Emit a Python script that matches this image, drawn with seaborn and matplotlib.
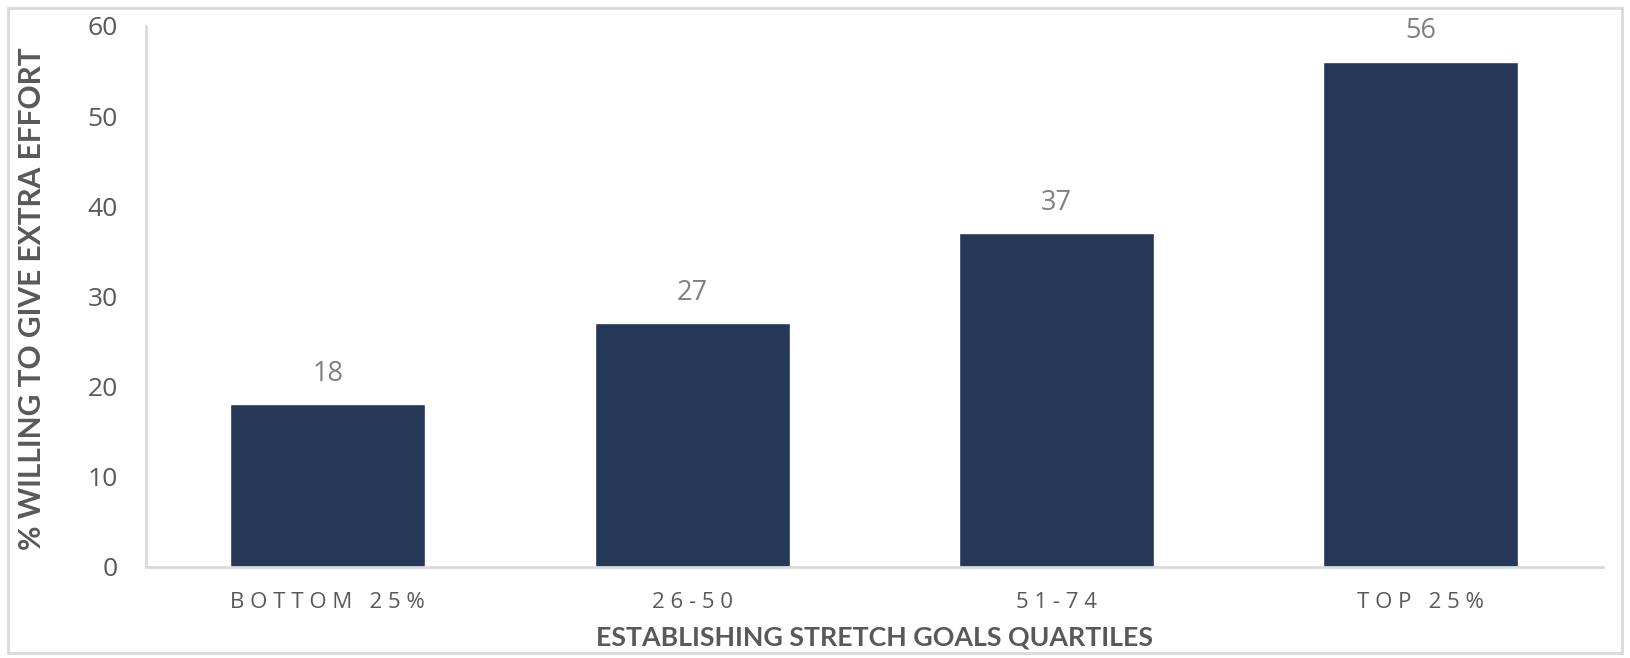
import seaborn as sns
import matplotlib.pyplot as plt
import pandas as pd
from matplotlib.patches import Rectangle

categories = ["BOTTOM 25%", "26-50", "51-74", "TOP 25%"]
values = [18, 27, 37, 56]
yticks = [0, 10, 20, 30, 40, 50, 60]

bar_color = "#253858"
axis_color = "#d9d9d9"
text_color = "#595959"

df = pd.DataFrame({"quartile": categories, "pct": values})

sns.set_style("white")
plt.rcParams["font.family"] = ["Open Sans", "DejaVu Sans"]

fig = plt.figure(figsize=(16.3, 6.58), dpi=100)
ax = fig.add_axes([0.0893, 0.139, 0.8941, 0.8215])

sns.barplot(data=df, x="quartile", y="pct", color=bar_color, width=0.535,
            saturation=1, ax=ax)

ax.set_xlim(-0.5, 3.5)
ax.set_ylim(0, 60)
ax.set_yticks(yticks)
ax.tick_params(axis="y", which="major", length=7, width=2, color=axis_color,
               labelsize=19, labelcolor=text_color, pad=13)
ax.tick_params(axis="x", length=0, pad=18)

# spaced-out category labels like the original
ax.set_xticks(range(len(categories)))
ax.set_xticklabels([" ".join(c) for c in categories], fontsize=16,
                   color=text_color)

for side in ["top", "right"]:
    ax.spines[side].set_visible(False)
for side in ["left", "bottom"]:
    ax.spines[side].set_color(axis_color)
    ax.spines[side].set_linewidth(2)

for i, v in enumerate(values):
    ax.annotate(str(v), (i, v), xytext=(0, 22), textcoords="offset points",
                ha="center", va="center", fontsize=19.5, color="#7f7f7f")

ax.set_xlabel("ESTABLISHING STRETCH GOALS QUARTILES", fontsize=19.3,
              fontweight="bold", color=text_color,
              family=["Lato", "DejaVu Sans"])
ax.set_ylabel("% WILLING TO GIVE EXTRA EFFORT", fontsize=21.5,
              fontweight="bold", color=text_color,
              family=["Lato", "DejaVu Sans"])
ax.xaxis.set_label_coords(0.5, -0.11)
ax.yaxis.set_label_coords(-0.068, 0.495)

# light border around the whole chart
fig.patches.append(Rectangle((0.005, 0.008), 0.99, 0.98, transform=fig.transFigure,
                             fill=False, edgecolor=axis_color, linewidth=2))

fig.savefig("out.png", dpi=100)
